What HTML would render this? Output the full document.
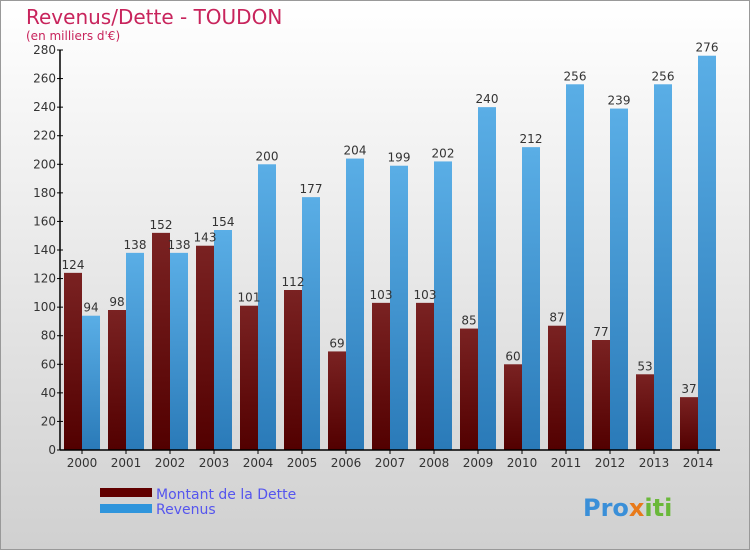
<!DOCTYPE html>
<html><head><meta charset="utf-8"><style>
body{margin:0;}
#c{width:750px;height:550px;position:relative;font-family:"DejaVu Sans","Liberation Sans",sans-serif;}
</style></head><body>
<div id="c">
<svg id="s" width="750" height="550" xmlns="http://www.w3.org/2000/svg">
<defs>
<linearGradient id="bg" x1="0" y1="0" x2="0" y2="1"><stop offset="0" stop-color="#ffffff"/><stop offset="1" stop-color="#d0d0d0"/></linearGradient>
<linearGradient id="gd" x1="0" y1="0" x2="0" y2="1"><stop offset="0" stop-color="#7a2222"/><stop offset="1" stop-color="#520000"/></linearGradient>
<linearGradient id="gr" x1="0" y1="0" x2="0" y2="1"><stop offset="0" stop-color="#5aaee6"/><stop offset="1" stop-color="#2a7ab8"/></linearGradient>
</defs>
<rect x="0.5" y="0.5" width="749" height="549" fill="url(#bg)" stroke="#999"/>
<text x="26" y="24" font-size="20" fill="#c8245c">Revenus/Dette - TOUDON</text>
<text x="26" y="40" font-size="12" fill="#c8245c">(en milliers d'€)</text>
<g id="bars"></g>
<g id="axes"></g>
<rect x="100" y="488" width="52" height="9" fill="#610000"/>
<rect x="100" y="504" width="52" height="9" fill="#2f95dc"/>
<text x="156" y="499" font-size="14" fill="#5555ee">Montant de la Dette</text>
<text x="156" y="514" font-size="14" fill="#5555ee">Revenus</text>
<text x="583" y="516" font-size="24" font-weight="bold" fill="#3a8fd8">Pro<tspan fill="#e87a1a">x</tspan><tspan fill="#6ab83a">iti</tspan></text>
</svg>
</div>
<script>
const years=["2000","2001","2002","2003","2004","2005","2006","2007","2008","2009","2010","2011","2012","2013","2014"];
const dette=[124,98,152,143,101,112,69,103,103,85,60,87,77,53,37];
const revenus=[94,138,138,154,200,177,204,199,202,240,212,256,239,256,276];
const yTicks=[0,20,40,60,80,100,120,140,160,180,200,220,240,260,280];
const NS="http://www.w3.org/2000/svg";
const x0=60,y0=450,yTop=50,yMax=280,step=44,bw=18;
const y=v=>y0-(v/yMax)*(y0-yTop);
const cx=i=>x0+22+i*step;
const bars=document.getElementById('bars'),axes=document.getElementById('axes');
function mk(t,a,p){const e=document.createElementNS(NS,t);for(const k in a)e.setAttribute(k,a[k]);p.appendChild(e);return e;}
years.forEach((yr,i)=>{
  const c=cx(i);
  const r1=mk('rect',{x:c-bw,y:y(dette[i]),width:bw,height:y0-y(dette[i]),fill:'url(#gd)'},bars);
  
  
  const r2=mk('rect',{x:c,y:y(revenus[i]),width:bw,height:y0-y(revenus[i]),fill:'url(#gr)'},bars);
  
  
  const t1=mk('text',{x:c-bw/2,y:y(dette[i])-4,'font-size':12,'text-anchor':'middle',fill:'#333'},bars);t1.textContent=dette[i];
  
  
  const t2=mk('text',{x:c+bw/2,y:y(revenus[i])-4,'font-size':12,'text-anchor':'middle',fill:'#333'},bars);t2.textContent=revenus[i];
  
  
  const xl=mk('text',{x:c,y:y0+17,'font-size':12,'text-anchor':'middle',fill:'#333'},axes);xl.textContent=yr;
  
  
  mk('line',{x1:c,x2:c,y1:y0,y2:y0+4,stroke:'#000'},axes);
});
yTicks.forEach(v=>{
  mk('line',{x1:x0-3,x2:x0+3,y1:y(v),y2:y(v),stroke:'#000'},axes);
  const t=mk('text',{x:x0-4,y:y(v)+4,'font-size':12,'text-anchor':'end',fill:'#333'},axes);t.textContent=v;
  
  
});
const ya=mk('line',{x1:x0,x2:x0,y1:yTop,y2:y0,stroke:'#000','stroke-width':1.5},axes);


const xa=mk('line',{x1:x0,x2:x0+15*step,y1:y0,y2:y0,stroke:'#000','stroke-width':1.5},axes);


</script>
</body></html>
